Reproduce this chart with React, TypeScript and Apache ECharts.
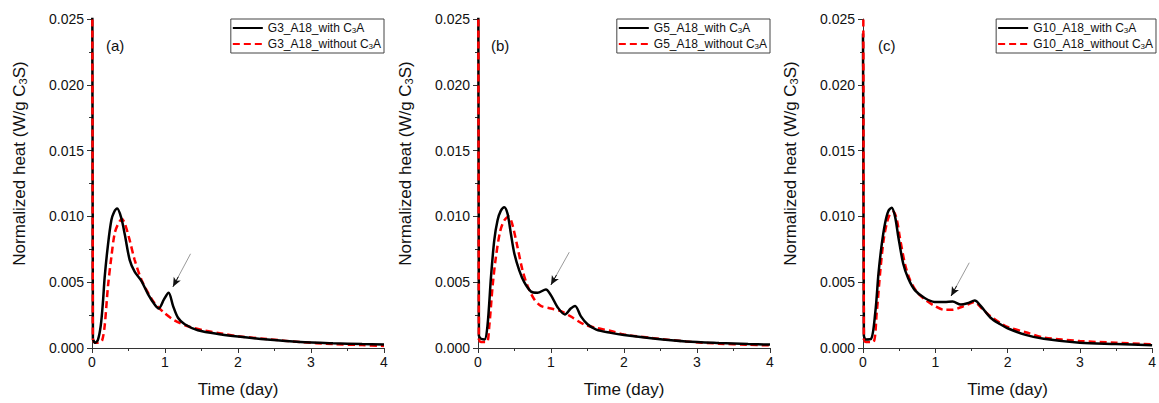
import React, { useEffect, useRef } from "react";
import * as echarts from "echarts";

// ---------- data ----------
const xTicks = [0, 1, 2, 3, 4];
const yTicks = [0, 0.005, 0.01, 0.015, 0.02, 0.025];

const panelLabels = ["(a)", "(b)", "(c)"];
const withNames = ["G3_A18_with C3A", "G5_A18_with C3A", "G10_A18_with C3A"];
const withoutNames = ["G3_A18_without C3A", "G5_A18_without C3A", "G10_A18_without C3A"];

// Panel (a)
const tAWith = [0, 0.012, 0.04, 0.08, 0.12, 0.15, 0.174, 0.22, 0.265, 0.3, 0.345, 0.4, 0.45, 0.516, 0.584, 0.676, 0.767, 0.858, 0.913, 0.986, 1.05, 1.11, 1.178, 1.27, 1.45, 1.77, 2.0, 2.4, 2.85, 3.3, 3.7, 4.0];
const hAWith = [0.04, 0.0007, 0.0004, 0.0006, 0.0017, 0.0035, 0.0054, 0.0079, 0.0097, 0.0103, 0.0106, 0.0099, 0.0086, 0.0067, 0.0058, 0.0051, 0.0041, 0.0033, 0.003, 0.0037, 0.0042, 0.0032, 0.0023, 0.0018, 0.00135, 0.00103, 0.00087, 0.00065, 0.00046, 0.00036, 0.0003, 0.00027];
const tAWithout = [0, 0.012, 0.04, 0.1, 0.14, 0.174, 0.219, 0.265, 0.31, 0.356, 0.41, 0.447, 0.516, 0.584, 0.676, 0.767, 0.858, 0.995, 1.13, 1.315, 1.54, 1.77, 2.0, 2.4, 2.85, 3.3, 3.7, 4.0];
const hAWithout = [0.04, 0.0006, 0.0004, 0.0004, 0.0006, 0.0017, 0.0047, 0.0069, 0.0087, 0.0094, 0.0098, 0.0095, 0.0082, 0.0067, 0.0052, 0.0042, 0.0034, 0.00265, 0.0021, 0.00165, 0.00133, 0.0011, 0.0009, 0.00068, 0.00045, 0.0003, 0.00022, 0.00016];

// Panel (b)
const tBWith = [0, 0.012, 0.04, 0.09, 0.13, 0.178, 0.223, 0.268, 0.31, 0.36, 0.405, 0.45, 0.497, 0.565, 0.633, 0.725, 0.815, 0.93, 1.0, 1.09, 1.19, 1.27, 1.33, 1.41, 1.5, 1.62, 1.82, 2.0, 2.4, 2.85, 3.3, 3.7, 4.0];
const hBWith = [0.04, 0.0009, 0.0007, 0.00065, 0.0017, 0.0054, 0.0082, 0.0097, 0.0104, 0.0107, 0.0102, 0.0087, 0.0072, 0.0059, 0.005, 0.0043, 0.0042, 0.00445, 0.004, 0.0031, 0.00255, 0.003, 0.0032, 0.0024, 0.0018, 0.0014, 0.00115, 0.00098, 0.00072, 0.0005, 0.00038, 0.0003, 0.00026];
const tBWithout = [0, 0.012, 0.04, 0.12, 0.155, 0.2, 0.245, 0.305, 0.36, 0.42, 0.47, 0.54, 0.61, 0.68, 0.77, 0.86, 1.0, 1.135, 1.27, 1.45, 1.64, 1.82, 2.0, 2.4, 2.85, 3.3, 3.7, 4.0];
const hBWithout = [0.04, 0.0006, 0.00045, 0.00045, 0.0017, 0.0047, 0.0069, 0.0089, 0.0097, 0.01, 0.0094, 0.0077, 0.0059, 0.0047, 0.0037, 0.0032, 0.003, 0.0028, 0.0024, 0.0018, 0.0015, 0.0013, 0.00103, 0.00075, 0.0005, 0.00033, 0.00025, 0.0002];

// Panel (c)
const tCWith = [0, 0.012, 0.04, 0.11, 0.17, 0.215, 0.26, 0.306, 0.35, 0.397, 0.443, 0.49, 0.557, 0.625, 0.717, 0.853, 0.99, 1.127, 1.24, 1.354, 1.446, 1.546, 1.628, 1.765, 1.9, 2.0, 2.25, 2.5, 3.0, 3.5, 4.0];
const hCWith = [0.0239, 0.0009, 0.00065, 0.00068, 0.0027, 0.0057, 0.0079, 0.0095, 0.0104, 0.01066, 0.01, 0.0084, 0.0064, 0.0053, 0.0044, 0.0038, 0.0035, 0.0035, 0.00353, 0.0033, 0.0034, 0.0036, 0.0032, 0.0023, 0.0018, 0.0015, 0.001, 0.0007, 0.0004, 0.0003, 0.0002];
const tCWithout = [0, 0.012, 0.04, 0.14, 0.19, 0.24, 0.285, 0.33, 0.375, 0.42, 0.466, 0.51, 0.58, 0.648, 0.74, 0.853, 0.99, 1.127, 1.24, 1.354, 1.446, 1.537, 1.628, 1.765, 1.9, 2.0, 2.25, 2.5, 3.0, 3.5, 4.0];
const hCWithout = [0.04, 0.0006, 0.00045, 0.00045, 0.0027, 0.0059, 0.0082, 0.0095, 0.0102, 0.01036, 0.0098, 0.0084, 0.0064, 0.0052, 0.0043, 0.0037, 0.0032, 0.0029, 0.0029, 0.0031, 0.0033, 0.0035, 0.0031, 0.0024, 0.0019, 0.0016, 0.0012, 0.0008, 0.00053, 0.0004, 0.00028];

// Arrow annotations (data coords): [startT, startH, endT, endH]
const arrowA = [1.35, 0.00716, 1.11, 0.00466];
const arrowB = [1.25, 0.00728, 1.0, 0.0048];
const arrowC = [1.47, 0.00648, 1.22, 0.00396];

const zip = (t: number[], h: number[]) => t.map((x, i) => [x, h[i]]);

const panels = [
  { w: zip(tAWith, hAWith), wo: zip(tAWithout, hAWithout), arrow: arrowA },
  { w: zip(tBWith, hBWith), wo: zip(tBWithout, hBWithout), arrow: arrowB },
  { w: zip(tCWith, hCWith), wo: zip(tCWithout, hCWithout), arrow: arrowC },
];

// ---------- layout ----------
const gridLefts = [92, 478, 863];
const gridWidth = 292;
const gridTop = 19;
const gridHeight = 333;
const legendRights = [775, 389, 3];
const labelX = [106, 491, 878];

const FONT = "Arial, 'Liberation Sans', Helvetica, sans-serif";
const AXIS_COLOR = "#333";

export default function App() {
  const ref = useRef<HTMLDivElement>(null);

  useEffect(() => {
    document.body.style.margin = "0";
    if (!ref.current) return;
    const chart = echarts.init(ref.current, null, { renderer: "svg" });

    const grid = gridLefts.map((l) => ({ left: l, top: gridTop, width: gridWidth, height: gridHeight, containLabel: false }));

    const xAxis = gridLefts.map((_, i) => ({
      type: "value",
      gridIndex: i,
      min: xTicks[0],
      max: xTicks[xTicks.length - 1],
      interval: 1,
      name: "Time (day)",
      nameLocation: "middle",
      nameGap: 33,
      nameTextStyle: { fontSize: 17, color: "#111", fontFamily: FONT },
      axisLine: { show: true, onZero: false, lineStyle: { color: AXIS_COLOR, width: 1 } },
      axisTick: { show: true, length: 5, lineStyle: { color: AXIS_COLOR } },
      minorTick: { show: true, splitNumber: 2, length: 3, lineStyle: { color: AXIS_COLOR } },
      axisLabel: { fontSize: 14, color: "#111", margin: 7, fontFamily: FONT },
      splitLine: { show: false },
      minorSplitLine: { show: false },
    }));

    const yAxis = gridLefts.map((_, i) => ({
      type: "value",
      gridIndex: i,
      min: yTicks[0],
      max: yTicks[yTicks.length - 1],
      interval: 0.005,
      name: "{a|Normalized heat (W/g C}{s|3}{a|S)}",
      nameLocation: "middle",
      nameRotate: 90,
      nameGap: 64,
      nameTextStyle: {
        color: "#111",
        fontFamily: FONT,
        padding: [0, 0, 0, 40],
        rich: {
          a: { fontSize: 17, color: "#111", fontFamily: FONT },
          s: { fontSize: 11, color: "#111", fontFamily: FONT, verticalAlign: "bottom", lineHeight: 7 },
        },
      },
      axisLine: { show: true, onZero: false, lineStyle: { color: AXIS_COLOR, width: 1 } },
      axisTick: { show: true, length: 5, lineStyle: { color: AXIS_COLOR } },
      minorTick: { show: true, splitNumber: 2, length: 3, lineStyle: { color: AXIS_COLOR } },
      axisLabel: { fontSize: 14, color: "#111", margin: 8, fontFamily: FONT, formatter: (v: number) => v.toFixed(3) },
      splitLine: { show: false },
      minorSplitLine: { show: false },
    }));

    const blackStyle = { color: "#000", width: 2.5 };
    const redStyle = { color: "#ff0000", width: 2.5, type: [7, 4] };

    const series: any[] = [];
    panels.forEach((p, i) => {
      const [sx, sy, ex, ey] = p.arrow;
      const nx = sx + (ex - sx) * 0.7;
      const ny = sy + (ey - sy) * 0.7;
      // main smooth body of "with" curve (from the first point after the initial spike)
      series.push({
        type: "line",
        name: withNames[i],
        xAxisIndex: i,
        yAxisIndex: i,
        data: p.w.slice(1),
        showSymbol: false,
        symbol: "none",
        smooth: 0.3,
        lineStyle: blackStyle,
        itemStyle: { color: "#000" },
        z: 3,
        markLine: {
          silent: true,
          animation: false,
          label: { show: false },
          symbol: ["none", "none"],
          data: [
            [
              { coord: [sx, sy], lineStyle: { color: "#9a9a9a", width: 1, type: "solid" } },
              { coord: [ex, ey] },
            ],
            [
              { coord: [nx, ny], symbol: "none", lineStyle: { color: "#111", width: 1, type: "solid" } },
              { coord: [ex, ey], symbol: "arrow", symbolSize: [6, 9] },
            ],
          ],
        },
      });
      // initial spike of "with" curve (straight)
      series.push({
        type: "line",
        name: withNames[i],
        xAxisIndex: i,
        yAxisIndex: i,
        data: p.w.slice(0, 2),
        showSymbol: false,
        symbol: "none",
        smooth: false,
        lineStyle: blackStyle,
        itemStyle: { color: "#000" },
        z: 3,
      });
      series.push({
        type: "line",
        name: withoutNames[i],
        xAxisIndex: i,
        yAxisIndex: i,
        data: p.wo.slice(1),
        showSymbol: false,
        symbol: "none",
        smooth: 0.3,
        lineStyle: redStyle,
        itemStyle: { color: "#ff0000" },
        z: 2,
      });
      series.push({
        type: "line",
        name: withoutNames[i],
        xAxisIndex: i,
        yAxisIndex: i,
        data: p.wo.slice(0, 2),
        showSymbol: false,
        symbol: "none",
        smooth: false,
        lineStyle: redStyle,
        itemStyle: { color: "#ff0000" },
        z: 4,
      });
    });

    const legend = gridLefts.map((_, i) => ({
      data: [withNames[i], withoutNames[i]],
      orient: "vertical",
      right: legendRights[i],
      top: gridTop,
      itemWidth: 30,
      itemHeight: 14,
      itemGap: 4,
      padding: [3, 3, 3, 1],
      borderColor: "#444",
      borderWidth: 1,
      backgroundColor: "#fff",
      selectedMode: false,
      itemStyle: { opacity: 0 },
      formatter: (name: string) => name.replace("C3A", "C{s|3}A"),
      textStyle: {
        fontSize: 12,
        color: "#111",
        fontFamily: FONT,
        rich: {
          s: { fontSize: 8, color: "#111", fontFamily: FONT, verticalAlign: "bottom", lineHeight: 6 },
        },
      },
    }));

    const graphic = panelLabels.map((lab, i) => ({
      type: "text",
      left: labelX[i],
      top: 38,
      style: { text: lab, fontSize: 15, fill: "#111", fontFamily: FONT },
    }));

    chart.setOption({
      animation: false,
      backgroundColor: "#fff",
      grid,
      xAxis,
      yAxis,
      series,
      legend,
      graphic,
    });

    return () => chart.dispose();
  }, []);

  return <div ref={ref} style={{ width: 1159, height: 403, position: "absolute", left: 0, top: 0 }} />;
}
